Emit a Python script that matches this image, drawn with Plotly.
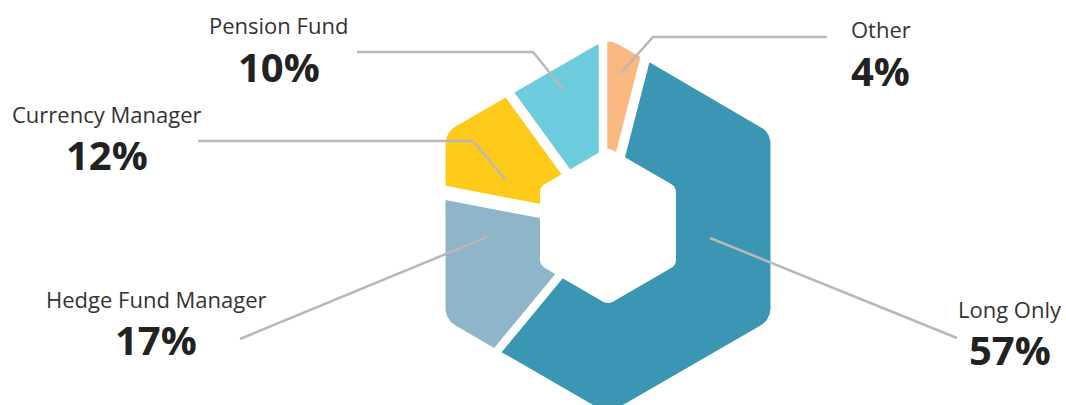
import numpy as np
import plotly.graph_objects as go

# ---------------- data ----------------
categories = ["Other", "Long Only", "Hedge Fund Manager", "Currency Manager", "Pension Fund"]
shares = [4, 57, 17, 12, 10]
pct_labels = ["4%", "57%", "17%", "12%", "10%"]

# ---------------- style / layout ----------------
colors = ["#FBB982", "#3A96B2", "#8EB5C8", "#FECA1A", "#6CCBDC"]
W, H = 1066, 405
HEX_C = (608.0, 226.0)     # centre of the hexagonal ring (px)
PIE_C = (603.0, 223.0)     # centre the slice boundaries radiate from (px)
R_OUT, RC_OUT = 187.6, 20.0
R_IN, RC_IN = 78.5, 9.0
GAP_AFTER = [10, 8.5, 14, 10, 8.6]   # white gap after each slice (px)

label_pos = {   # x centre, name y, percent y
    "Other": (880.5, 29, 70),
    "Long Only": (1010, 309, 349.5),
    "Hedge Fund Manager": (156, 299, 339.5),
    "Currency Manager": (106.5, 114, 154),
    "Pension Fund": (278.5, 24.5, 66.5),
}
leaders = {
    "Other": [(827, 37), (653, 37), (621, 73)],
    "Long Only": [(710, 238), (957, 338)],
    "Hedge Fund Manager": [(487, 237), (240, 339)],
    "Currency Manager": [(198, 141), (473, 141), (505, 179)],
    "Pension Fund": [(357, 52), (533, 52), (563, 89)],
}


def rounded_hex(c, R, rc, n_arc=24):
    pts = []
    d = R - rc / np.cos(np.radians(30))
    for k in range(6):
        ak = np.radians(60 * k)
        cx = c[0] + d * np.sin(ak)
        cy = c[1] - d * np.cos(ak)
        for t in np.linspace(-30, 30, n_arc):
            a = ak + np.radians(t)
            pts.append((cx + rc * np.sin(a), cy - rc * np.cos(a)))
    return pts


def clip(poly, n, o, off):
    out = []
    f = lambda p: n[0] * (p[0] - o[0]) + n[1] * (p[1] - o[1]) - off
    L = len(poly)
    for i in range(L):
        P, Q = poly[i], poly[(i + 1) % L]
        fp, fq = f(P), f(Q)
        if fp >= 0:
            out.append(P)
        if (fp >= 0) != (fq >= 0):
            t = fp / (fp - fq)
            out.append((P[0] + t * (Q[0] - P[0]), P[1] + t * (Q[1] - P[1])))
    return out


def wedge(poly, a0, a1, g0, g1):
    r0, r1 = np.radians(a0), np.radians(a1)
    p = clip(poly, (np.cos(r0), np.sin(r0)), PIE_C, g0 / 2)
    p = clip(p, (-np.cos(r1), -np.sin(r1)), PIE_C, g1 / 2)
    return p


outer = rounded_hex(HEX_C, R_OUT, RC_OUT)
inner = rounded_hex(HEX_C, R_IN, RC_IN)

fig = go.Figure()
total = float(sum(shares))
cum = np.concatenate([[0], np.cumsum(shares)]) / total * 360.0
n = len(shares)
for i in range(n):
    a0, a1 = cum[i], cum[i + 1]
    g0 = GAP_AFTER[i - 1]
    g1 = GAP_AFTER[i]
    pieces = []
    if a1 - a0 > 170:
        m = (a0 + a1) / 2
        pieces.append(wedge(outer, a0, m, g0, -1.5))
        pieces.append(wedge(outer, m, a1, -1.5, g1))
    else:
        pieces.append(wedge(outer, a0, a1, g0, g1))
    for j, poly in enumerate(pieces):
        xs = [p[0] for p in poly] + [poly[0][0]]
        ys = [p[1] for p in poly] + [poly[0][1]]
        fig.add_trace(go.Scatter(x=xs, y=ys, mode="lines", fill="toself",
                                 fillcolor=colors[i], line=dict(width=0, color=colors[i]),
                                 hoverinfo="skip", showlegend=False, name=categories[i]))

xs = [p[0] for p in inner] + [inner[0][0]]
ys = [p[1] for p in inner] + [inner[0][1]]
fig.add_trace(go.Scatter(x=xs, y=ys, mode="lines", fill="toself", fillcolor="white",
                         line=dict(width=0, color="white"), hoverinfo="skip", showlegend=False))

for i, cat in enumerate(categories):
    pts = leaders[cat]
    fig.add_trace(go.Scatter(x=[p[0] for p in pts], y=[p[1] for p in pts], mode="lines",
                             line=dict(color="#B8B8B8", width=2.5), hoverinfo="skip",
                             showlegend=False))
    x, yn, yp = label_pos[cat]
    fig.add_annotation(x=x, y=yn, text=cat, showarrow=False, xanchor="center", yanchor="middle",
                       font=dict(family="Open Sans", size=22, color="#333333"))
    fig.add_annotation(x=x, y=yp, text=pct_labels[i], showarrow=False, xanchor="center",
                       yanchor="middle",
                       font=dict(family="Open Sans", size=40, color="#222222", weight=700))

fig.update_layout(
    width=W, height=H, margin=dict(l=0, r=0, t=0, b=0),
    paper_bgcolor="white", plot_bgcolor="white",
    xaxis=dict(range=[0, W], visible=False, fixedrange=True),
    yaxis=dict(range=[H, 0], visible=False, fixedrange=True),
)
fig.write_html("out.html")
